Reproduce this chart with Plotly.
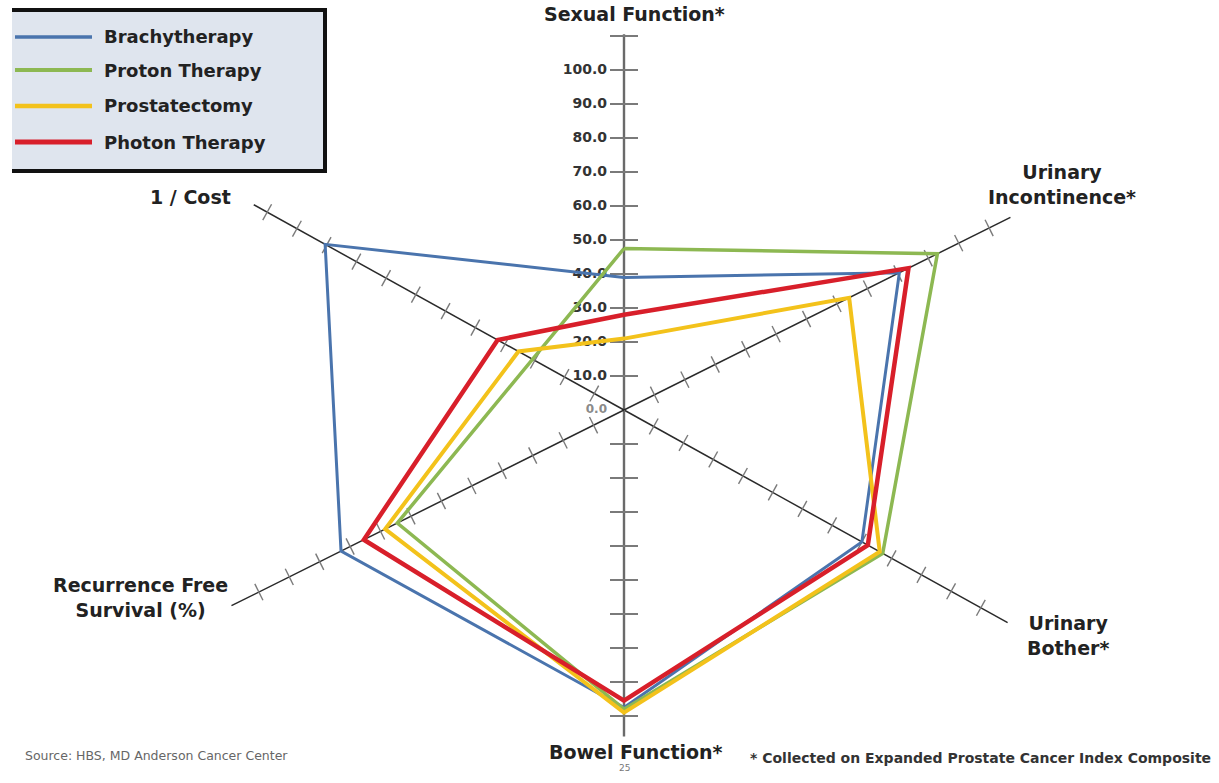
import numpy as np
import plotly.graph_objects as go

# ---------------- data ----------------
categories = ["Sexual Function*", "Urinary Incontinence*", "Urinary Bother*",
              "Bowel Function*", "Recurrence Free Survival (%)", "1 / Cost"]
series_names = ["Brachytherapy", "Proton Therapy", "Prostatectomy", "Photon Therapy"]
brachytherapy = [39.0, 90.5, 80.0, 87.5, 93.0, 100.5]
proton_therapy = [47.5, 103.0, 87.0, 88.0, 74.5, None]   # no 1/Cost value plotted
prostatectomy = [21.0, 74.0, 86.0, 89.0, 78.5, 35.5]
photon_therapy = [28.0, 93.5, 82.0, 85.5, 85.5, 42.5]
scale_ticks = [0, 10, 20, 30, 40, 50, 60, 70, 80, 90, 100]
scale_tick_labels = ["0.0", "10.0", "20.0", "30.0", "40.0", "50.0",
                     "60.0", "70.0", "80.0", "90.0", "100.0"]
axis_tick_step = 10

# ---------------- geometry / style ----------------
W, H = 1219, 783
CX, CY = 624, 410          # centre of the radar in pixels
PPU = 3.4                  # pixels per value unit
AXIS_ANGLE = [90, 26.5, -29, -90, 206.5, 151]     # degrees, counter-clockwise from east
AXIS_LENGTH = [110.5, 127, 129, 96, 129, 124.5]   # in value units
COLORS = ["#4a74ad", "#8db852", "#f3c21b", "#d81f2a"]
WIDTHS = [3, 3.5, 4, 4.5]
FONT = "DejaVu Sans"

def proj(r, ang):
    a = np.deg2rad(ang)
    return r * np.cos(a), r * np.sin(a)

def P(xpx, ypx):
    return xpx / W, 1 - ypx / H

fig = go.Figure()

# axes lines and ticks
for name, ang, length in zip(categories, AXIS_ANGLE, AXIS_LENGTH):
    vertical = abs(abs(ang) - 90) < 1e-6
    ex, ey = proj(length, ang)
    fig.add_trace(go.Scatter(
        x=[0, ex], y=[0, ey], mode="lines",
        line=dict(color="#6a6a6a" if vertical else "#2a2a2a", width=2.4 if vertical else 1.5),
        hoverinfo="skip", showlegend=False))
    tv = np.arange(axis_tick_step, length - 0.4 if vertical else length - 3, axis_tick_step)
    tx, ty = proj(tv, ang)
    fig.add_trace(go.Scatter(
        x=tx, y=ty, mode="markers",
        marker=dict(symbol="line-ns", size=20 if vertical else 13, angle=-ang,
                    color="#7a7a7a", line=dict(color="#7a7a7a", width=2 if vertical else 1.4)),
        hoverinfo="skip", showlegend=False))

# value scale labels on the vertical axis
fig.add_trace(go.Scatter(
    x=[-5.0] * len(scale_ticks), y=scale_ticks, mode="text",
    text=[f"<b>{t}</b>" for t in scale_tick_labels],
    textposition="middle left",
    textfont=dict(family=FONT, size=[12] + [14] * (len(scale_ticks) - 1),
                  color=["#8a8a8a"] + ["#333333"] * (len(scale_ticks) - 1)),
    hoverinfo="skip", showlegend=False))

# series polygons
for name, vals, col, w in zip(series_names,
                              [brachytherapy, proton_therapy, prostatectomy, photon_therapy],
                              COLORS, WIDTHS):
    pts = [(v, a) for v, a in zip(vals, AXIS_ANGLE) if v is not None]
    pts.append(pts[0])
    xs, ys = zip(*[proj(v, a) for v, a in pts])
    fig.add_trace(go.Scatter(
        x=list(xs), y=list(ys), mode="lines", name=name,
        line=dict(color=col, width=w),
        hovertemplate=name + "<extra></extra>", showlegend=False))

# category labels
label_pos = {
    "Sexual Function*": ((634, 14), "center", "Sexual Function*"),
    "Urinary Incontinence*": ((1062, 184), "center", "Urinary<br>Incontinence*"),
    "Urinary Bother*": ((1068, 635), "center", "Urinary<br>Bother*"),
    "Bowel Function*": ((636, 752), "center", "Bowel Function*"),
    "Recurrence Free Survival (%)": ((140, 597), "center", "Recurrence Free<br>Survival (%)"),
    "1 / Cost": ((190, 197), "center", "1 / Cost"),
}
annotations = []
for cat in categories:
    (px_, py_), al, txt = label_pos[cat]
    x, y = P(px_, py_)
    annotations.append(dict(x=x, y=y, xref="paper", yref="paper", text=f"<b>{txt}</b>",
                            showarrow=False, xanchor="center", yanchor="middle", align=al,
                            font=dict(family=FONT, size=19, color="#222222")))

# footer texts
x, y = P(624, 775)
annotations.append(dict(x=x, y=y, xref="paper", yref="paper", text="25", showarrow=False,
                        font=dict(family=FONT, size=9, color="#777777")))
x, y = P(1213, 768)
annotations.append(dict(x=x, y=y, xref="paper", yref="paper", xanchor="right",
                        text="<b>* Collected on Expanded Prostate Cancer Index Composite</b>",
                        showarrow=False, font=dict(family=FONT, size=14, color="#333333")))
x, y = P(23, 765)
annotations.append(dict(x=x, y=y, xref="paper", yref="paper", xanchor="left",
                        text="Source: HBS, MD Anderson Cancer Center",
                        showarrow=False, font=dict(family=FONT, size=12.5, color="#666666")))

# custom legend
shapes = []
lx0, lx1, ly0, ly1 = 12, 325, 10, 171
shapes.append(dict(type="rect", xref="paper", yref="paper",
                   x0=P(lx0, 0)[0], x1=P(lx1, 0)[0], y0=P(0, ly1)[1], y1=P(0, ly0)[1],
                   fillcolor="#dfe5ee", line=dict(width=0), layer="below"))
for (a, b, c, d) in [(lx0, ly0, lx1 + 2, ly0), (lx0, ly1, lx1 + 2, ly1), (lx1, ly0, lx1, ly1)]:
    shapes.append(dict(type="line", xref="paper", yref="paper",
                       x0=P(a, b)[0], y0=P(a, b)[1], x1=P(c, d)[0], y1=P(c, d)[1],
                       line=dict(color="#111111", width=4)))
legend_rows = [37, 70, 106, 142]
for name, col, w, ry in zip(series_names, COLORS, WIDTHS, legend_rows):
    shapes.append(dict(type="line", xref="paper", yref="paper",
                       x0=P(15, ry)[0], y0=P(15, ry)[1], x1=P(92, ry)[0], y1=P(92, ry)[1],
                       line=dict(color=col, width=w + 0.5)))
    x, y = P(102, ry)
    annotations.append(dict(x=x, y=y, xref="paper", yref="paper", xanchor="left",
                            yanchor="middle", text=f"<b>{name}</b>", showarrow=False,
                            font=dict(family=FONT, size=18, color="#222222")))

fig.update_layout(
    width=W, height=H, autosize=False,
    margin=dict(l=0, r=0, t=0, b=0),
    paper_bgcolor="white", plot_bgcolor="white",
    xaxis=dict(visible=False, range=[-CX / PPU, (W - CX) / PPU], fixedrange=True),
    yaxis=dict(visible=False, range=[-(H - CY) / PPU, CY / PPU], fixedrange=True),
    annotations=annotations, shapes=shapes, showlegend=False,
)

fig.write_html("out.html", config={"displayModeBar": False},
               post_script="document.body.style.margin='0';document.body.style.overflow='hidden';")
